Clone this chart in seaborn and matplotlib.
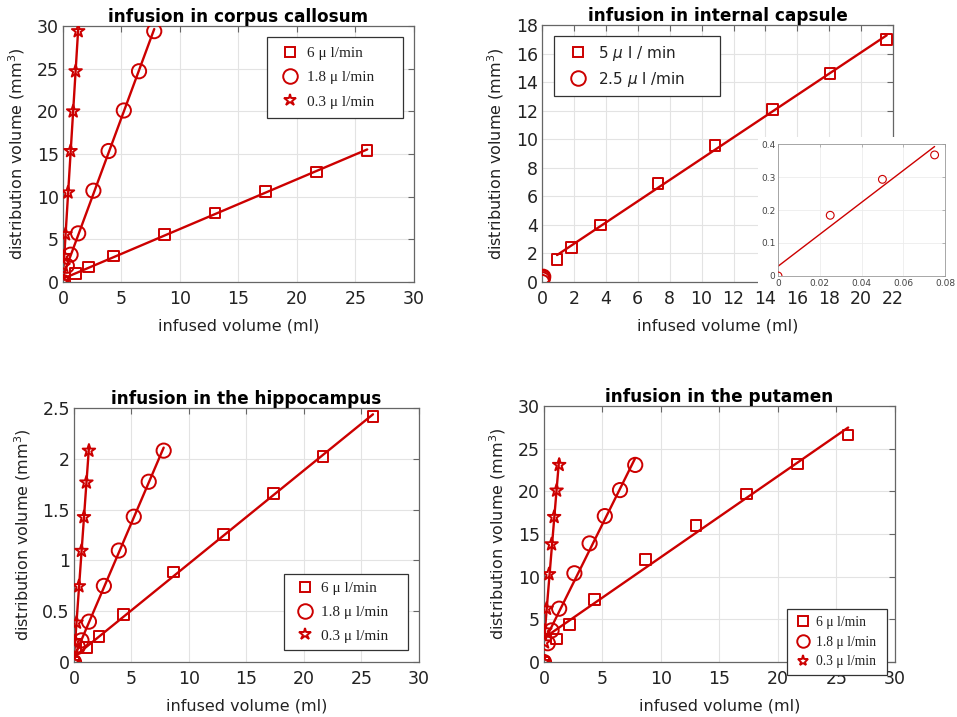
import numpy as np
import matplotlib.pyplot as plt
import seaborn as sns
from matplotlib.lines import Line2D
from matplotlib.patches import Rectangle

RED = '#cc0000'
GRID = '#e3e3e3'
SPINE = '#666666'
TEXT = '#222222'

# infused volume (ml) for each infusion rate
x_6 = [0, 1.08, 2.17, 4.33, 8.67, 13.0, 17.33, 21.67, 26.0]
x_18 = [0, 0.33, 0.65, 1.3, 2.6, 3.9, 5.2, 6.5, 7.8]
x_03 = [0, 0.05, 0.11, 0.22, 0.43, 0.65, 0.87, 1.08, 1.3]

# corpus callosum
cc_6 = [0, 1.0, 1.76, 3.05, 5.6, 8.1, 10.6, 12.9, 15.4]
cc_18 = [0, 1.9, 3.2, 5.7, 10.7, 15.35, 20.1, 24.7, 29.4]
cc_03 = [0, 1.9, 3.05, 5.6, 10.5, 15.35, 20.0, 24.7, 29.4]

# hippocampus
hc_6 = [0, 0.141, 0.253, 0.47, 0.887, 1.255, 1.656, 2.024, 2.418]
hc_18 = [0, 0.15, 0.213, 0.397, 0.749, 1.097, 1.43, 1.774, 2.08]
hc_03 = [0, 0.13, 0.207, 0.388, 0.746, 1.094, 1.426, 1.767, 2.08]

# putamen
pu_6 = [0, 2.7, 4.4, 7.3, 12.0, 16.0, 19.7, 23.2, 26.6]
pu_18 = [0, 2.2, 3.7, 6.25, 10.4, 13.9, 17.1, 20.15, 23.1]
pu_03 = [0, 2.3, 3.7, 6.25, 10.3, 13.8, 17.0, 20.1, 23.1]

# internal capsule
ic_x5 = [0.94, 1.86, 3.66, 7.27, 10.84, 14.46, 18.05, 21.6]
ic_y5 = [1.56, 2.43, 4.0, 6.89, 9.55, 12.09, 14.59, 17.0]
ic_x25 = [0, 0.025, 0.05, 0.075]
ic_y25 = [0, 0.184, 0.293, 0.367]

labels_3 = ['6 \u03bc l/min', '1.8 \u03bc l/min', '0.3 \u03bc l/min']
labels_ic = ['5 $\\mu$ l / min', '2.5 $\\mu$ l /min']

MARKERS = {'s': 58, 'o': 105, '*': 90}

sns.set_theme(style='whitegrid')
plt.rcParams['font.family'] = ['DejaVu Sans']


def style_axes(ax, title, xlim, ylim, xticks, yticks):
    ax.set_facecolor('white')
    ax.set_xlim(*xlim)
    ax.set_ylim(*ylim)
    ax.set_xticks(xticks)
    ax.set_yticks(yticks)
    ax.grid(True, color=GRID, linewidth=0.8)
    for sp in ax.spines.values():
        sp.set_visible(True)
        sp.set_color(SPINE)
        sp.set_linewidth(0.9)
    ax.tick_params(direction='in', top=True, right=True, length=4, width=0.8,
                   color=SPINE, labelsize=12.5, labelcolor=TEXT)
    ax.tick_params(axis='x', pad=6)
    ax.tick_params(axis='y', pad=3)
    ax.set_title(title, fontsize=12.2, fontweight='bold', color='black', pad=3)
    ax.set_xlabel('infused volume (ml)', fontsize=11.5, color=TEXT, labelpad=7)
    ax.set_ylabel('distribution volume (mm$^3$)', fontsize=11.5, color=TEXT, labelpad=7)


def draw_series(ax, x, y, marker, skip_origin=False, x0=None, lw=1.7, scale=1.0, mew=1.4):
    x = np.asarray(x, float)
    y = np.asarray(y, float)
    mask = x > 0 if skip_origin else np.ones_like(x, bool)
    k, b = np.polyfit(x[mask], y[mask], 1)
    lo = x[mask].min() if x0 is None else x0
    xs = np.array([lo, x.max()])
    sns.lineplot(x=xs, y=k * xs + b, color=RED, linewidth=lw, ax=ax, zorder=2)
    sns.scatterplot(x=x, y=y, marker=marker, s=MARKERS[marker] * scale, fc='none',
                    ec=RED, linewidth=mew, ax=ax, zorder=3)


def add_legend(ax, markers, labels, box, fontsize, family, spacing, msize,
               hlen, hpad, bpad=0.55):
    handles = [Line2D([], [], linestyle='none', marker=m, markersize=msize[i],
                      markerfacecolor='none', markeredgecolor=RED, markeredgewidth=1.4)
               for i, m in enumerate(markers)]
    leg = ax.legend(handles, labels, loc='upper left', bbox_to_anchor=box, mode='expand',
                    borderaxespad=0, fancybox=False, framealpha=1, edgecolor='#333333',
                    prop={'family': family, 'size': fontsize},
                    labelspacing=spacing, handletextpad=hpad, borderpad=bpad,
                    handlelength=hlen)
    leg.get_frame().set_linewidth(0.9)
    for t in leg.get_texts():
        t.set_color(TEXT)
    return leg


fig = plt.figure(figsize=(9.57, 7.17), dpi=100, facecolor='white')

# corpus callosum
ax1 = fig.add_axes([0.0658, 0.6067, 0.3668, 0.357])
draw_series(ax1, x_6, cc_6, 's')
draw_series(ax1, x_18, cc_18, 'o')
draw_series(ax1, x_03, cc_03, '*')
style_axes(ax1, 'infusion in corpus callosum', (0, 30), (0, 30),
           range(0, 31, 5), range(0, 31, 5))
add_legend(ax1, ['s', 'o', '*'], labels_3, (0.581, 0.0, 0.3875, 0.957), 11,
           'Liberation Serif', 0.7, [7.5, 10.5, 9], 1.8, 0.2, 0.6)

# internal capsule
ax2 = fig.add_axes([0.5664, 0.6067, 0.3668, 0.3584])
draw_series(ax2, ic_x5, ic_y5, 's')
sns.scatterplot(x=ic_x25, y=ic_y25, marker='o', s=105, fc='none', ec=RED, linewidth=1.4,
                ax=ax2, zorder=3)
style_axes(ax2, 'infusion in internal capsule', (0, 22), (0, 18),
           range(0, 23, 2), range(0, 19, 2))
add_legend(ax2, ['s', 'o'], labels_ic, (0.034, 0.0, 0.473, 0.957), 11,
           'DejaVu Sans', 0.45, [7.5, 10.5], 2.1, 0.25, 0.5)

# white patch behind the inset
ax2.add_patch(Rectangle((758 / 957, 1 - 284 / 717), 199 / 957, 147 / 717,
                        transform=fig.transFigure, facecolor='white', edgecolor='none',
                        clip_on=False, zorder=10))
axi = fig.add_axes([0.813, 0.6151, 0.1745, 0.184])
draw_series(axi, ic_x25, ic_y25, 'o', lw=1.0, scale=0.3, mew=0.8)
axi.set_facecolor('white')
axi.set_xlim(0, 0.08)
axi.set_ylim(0, 0.4)
axi.set_xticks([0, 0.02, 0.04, 0.06, 0.08])
axi.set_xticklabels(['0', '0.02', '0.04', '0.06', '0.08'])
axi.set_yticks([0, 0.1, 0.2, 0.3, 0.4])
axi.set_yticklabels(['0', '0.1', '0.2', '0.3', '0.4'])
axi.grid(True, color='#ececec', linewidth=0.6)
for sp in axi.spines.values():
    sp.set_visible(True)
    sp.set_color('#999999')
    sp.set_linewidth(0.6)
axi.tick_params(direction='in', top=True, right=True, length=2, width=0.5, color='#999999',
                labelsize=6.5, labelcolor='#444444', pad=2)
axi.set_xlabel('')
axi.set_ylabel('')

# hippocampus
ax3 = fig.add_axes([0.0773, 0.0767, 0.3605, 0.3543])
draw_series(ax3, x_6, hc_6, 's')
draw_series(ax3, x_18, hc_18, 'o')
draw_series(ax3, x_03, hc_03, '*')
style_axes(ax3, 'infusion in the hippocampus', (0, 30), (0, 2.5),
           range(0, 31, 5), [0, 0.5, 1, 1.5, 2, 2.5])
ax3.set_yticklabels(['0', '0.5', '1', '1.5', '2', '2.5'])
add_legend(ax3, ['s', 'o', '*'], labels_3, (0.609, 0.0, 0.359, 0.346), 11,
           'Liberation Serif', 0.65, [7.5, 10.5, 9], 1.8, 0.1, 0.5)

# putamen
ax4 = fig.add_axes([0.5684, 0.0767, 0.3668, 0.357])
draw_series(ax4, x_6, pu_6, 's', skip_origin=True, x0=0.1)
draw_series(ax4, x_18, pu_18, 'o', skip_origin=True, x0=0.1)
draw_series(ax4, x_03, pu_03, '*', skip_origin=True, x0=0.0)
style_axes(ax4, 'infusion in the putamen', (0, 30), (0, 30),
           range(0, 31, 5), range(0, 31, 5))
add_legend(ax4, ['s', 'o', '*'], labels_3, (0.692, 0.0, 0.285, 0.207), 9.8,
           'Liberation Serif', 0.5, [6.5, 9, 8], 1.35, 0.3, 0.5)

fig.savefig('out.png', dpi=100, facecolor='white')
